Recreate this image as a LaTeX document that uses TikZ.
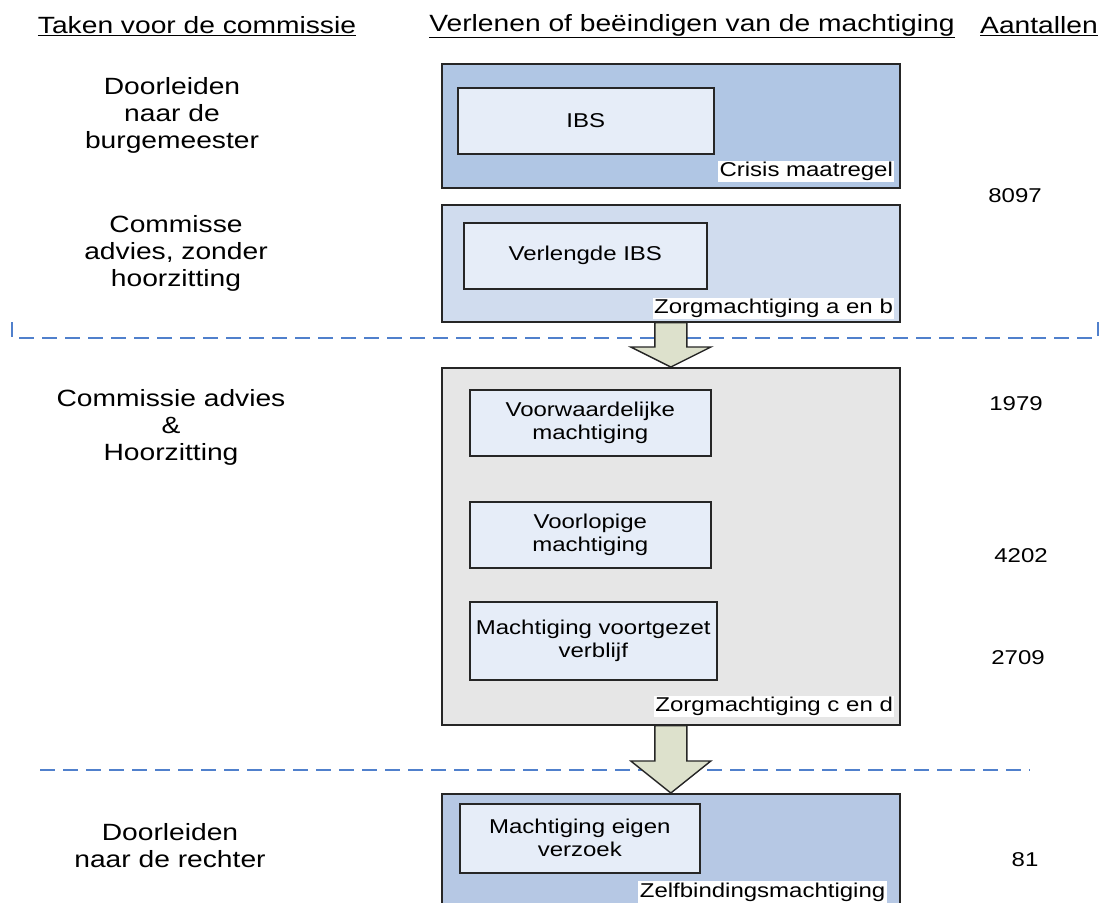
\documentclass[tikz,border=0pt]{standalone}
\usepackage{fontspec}
\setmainfont{Liberation Sans}[FakeStretch=1.2]
\usetikzlibrary{calc}

\definecolor{crisisblue}{RGB}{176,198,228}
\definecolor{zorgablue}{RGB}{208,220,238}
\definecolor{zorgcgrey}{RGB}{230,230,230}
\definecolor{zelfblue}{RGB}{182,200,228}
\definecolor{innerfill}{RGB}{230,237,248}
\definecolor{arrowfill}{RGB}{221,225,204}
\definecolor{splitblue}{RGB}{80,128,204}

\newcommand{\hdfont}{\fontsize{23.5}{27}\selectfont}
\newcommand{\bxfont}{\fontsize{20}{23}\selectfont}

\tikzset{
  outerbox/.style={draw=black!85, line width=1.6pt, minimum width=458pt, anchor=north west, inner sep=0pt},
  innerbox/.style={draw=black!85, line width=1.6pt, fill=innerfill, anchor=north west, align=center, font=\bxfont, inner sep=0pt},
  tagtext/.style={fill=white, inner sep=1.5pt, anchor=south east, font=\bxfont},
  colhead/.style={font=\hdfont, inner sep=0pt},
  stepnote/.style={font=\hdfont, align=center, inner sep=0pt},
  count/.style={font=\bxfont, inner sep=0pt},
  splitline/.style={draw=splitblue, line width=1.3pt, dash pattern=on 15pt off 8pt},
  arrowblock/.style={draw=black!85, line width=1.4pt, fill=arrowfill, line join=miter}
}

% #1 from box, #2 to box, #3 head length
\newcommand{\blockarrow}[3]{%
  \draw[arrowblock] let \p1=(#1.south), \p2=(#2.north) in
    (\x1-16pt,\y1) -- (\x1+16pt,\y1) -- (\x1+16pt,\y2+#3) -- (\x1+40pt,\y2+#3)
    -- (\x2,\y2) -- (\x1-40pt,\y2+#3) -- (\x1-16pt,\y2+#3) -- cycle;}

\begin{document}
\begin{tikzpicture}[x=1pt, y=-1pt]
  \clip (0,0) rectangle (1102,902);
  \fill[white] (0,0) rectangle (1102,902);

  \node[colhead] (hTaken) at (197,26) {\underline{Taken voor de commissie}};
  \node[colhead] (hVerlenen) at (692,26) {\underline{Verlenen of beëindigen van de machtiging}};
  \node[colhead] (hAantal) at (1039,26) {\underline{Aantallen}};

  \node[stepnote] (tBurg) at (172,115) {Doorleiden\\naar de\\burgemeester};
  \node[stepnote] (tZonder) at (176,253) {Commisse\\advies, zonder\\hoorzitting};
  \node[stepnote] (tHoor) at (171,427) {Commissie advies\\\&\\Hoorzitting};
  \node[stepnote] (tRechter) at (170,846) {Doorleiden\\naar de rechter};

  \node[outerbox, fill=crisisblue, minimum height=124pt] (crisis) at (441,63) {};
  \node[innerbox, minimum width=256pt, minimum height=66pt] (ibs) at (457,87) {IBS};
  \node[tagtext] (tagCrisis) at ([shift={(-6pt,6pt)}]crisis.south east) {Crisis maatregel};

  \node[outerbox, fill=zorgablue, minimum height=117pt] (zorgab) at (441,204) {};
  \node[innerbox, minimum width=243pt, minimum height=66pt] (vibs) at (463,222) {Verlengde IBS};
  \node[tagtext] (tagAB) at ([shift={(-6pt,3pt)}]zorgab.south east) {Zorgmachtiging a en b};

  \draw[splitline] (12,322) -- (12,338) -- (1098,338) -- (1098,322);

  \node[outerbox, fill=zorgcgrey, minimum height=357pt] (zorgcd) at (441,367) {};
  \node[innerbox, minimum width=241pt, minimum height=66pt] (voorw) at (469,389) {Voorwaardelijke\\machtiging};
  \node[innerbox, minimum width=241pt, minimum height=66pt] (voorl) at (469,501) {Voorlopige\\machtiging};
  \node[innerbox, minimum width=247pt, minimum height=78pt] (mvv) at (469,601) {Machtiging voortgezet\\verblijf};
  \node[tagtext] (tagCD) at ([shift={(-6pt,8pt)}]zorgcd.south east) {Zorgmachtiging c en d};

  \blockarrow{zorgab}{zorgcd}{20pt}

  \draw[splitline] (40,770) -- (1030,770);

  \node[outerbox, fill=zelfblue, minimum height=130pt] (zelf) at (441,793) {};
  \node[innerbox, minimum width=240pt, minimum height=69pt] (eigen) at (459,803) {Machtiging eigen\\verzoek};
  \node[tagtext, anchor=south east] (tagZelf) at (887,903) {Zelfbindingsmachtiging};

  \blockarrow{zorgcd}{zelf}{32pt}

  \node[count] (nAB) at (1015,196) {8097};
  \node[count] (nVoorw) at (1016,404) {1979};
  \node[count] (nVoorl) at (1021,556) {4202};
  \node[count] (nMvv) at (1018,658) {2709};
  \node[count] (nZelf) at (1025,860) {81};
\end{tikzpicture}
\end{document}
